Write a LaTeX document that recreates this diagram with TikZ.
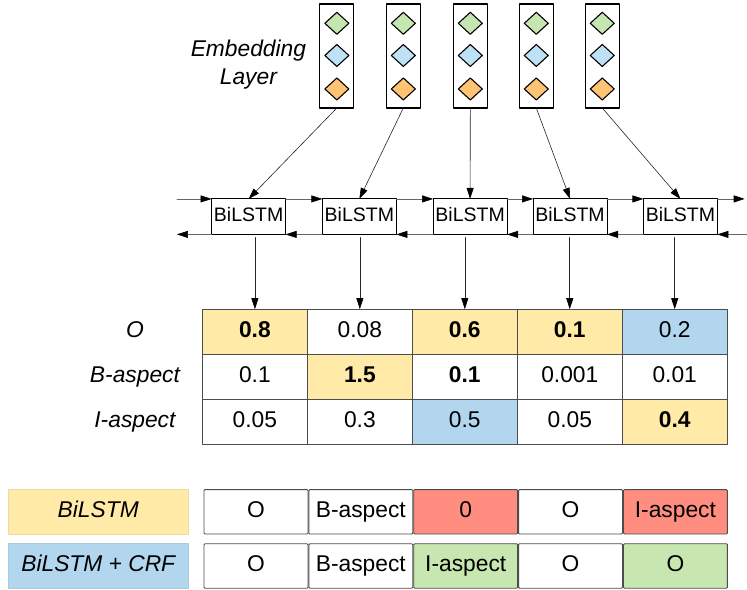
\documentclass[tikz,border=0pt]{standalone}
\usepackage{fontspec}
\setmainfont{Liberation Sans}
\usetikzlibrary{arrows.meta,shapes.geometric}

\definecolor{gemgreen}{HTML}{C5E6B1}
\definecolor{gemblue}{HTML}{BEE1F5}
\definecolor{gemorange}{HTML}{FFC473}
\definecolor{yel}{HTML}{FFEAA8}
\definecolor{blu}{HTML}{B3D6EF}
\definecolor{red}{HTML}{FF8D80}
\definecolor{grn}{HTML}{C8E6AF}

\begin{document}
\begin{tikzpicture}
  [
    x=1pt, y=-1pt,
    line cap=round, line join=round,
    every node/.style={inner sep=0pt, outer sep=0pt},
    big/.style={font=\fontsize{22.8}{26.6}\selectfont},
    emb/.style={draw, line width=1.2pt, minimum width=34pt, minimum height=104pt},
    gem/.style={diamond, draw, line width=1.1pt, minimum width=24pt, minimum height=22pt},
    lstm/.style={draw, line width=1.1pt, minimum width=74pt, minimum height=35.5pt,
      text height=14pt, text depth=4pt, font=\fontsize{19.5}{22}\selectfont},
    cell/.style={big, draw=black!70, line width=0.9pt, minimum width=105pt, minimum height=45pt,
      text height=16.3pt, text depth=5pt},
    tag/.style={cell, rounded corners=1pt, minimum width=104pt, minimum height=44.5pt},
    rowlab/.style={big, text height=16.3pt, text depth=5pt, font=\fontsize{22.8}{26.6}\selectfont\itshape},
    modelbox/.style={rowlab, draw=#1!85!gray, line width=0.4pt, fill=#1, minimum width=180pt, minimum height=45pt},
    numbold/.style={font=\fontsize{22.8}{26.6}\selectfont\bfseries},
    numplain/.style={},
    flow/.style={black!85, line width=0.6pt, -{Triangle[length=11pt,width=7pt,color=black]}},
    chain/.style={flow, black!60},
  ]

% embedding layer
\node[rowlab, anchor=base] (embA) at (248.5,56.7) {Embedding};
\node[rowlab, anchor=base] (embB) at (248.5,84.5) {Layer};

\foreach \i/\x in {1/337,2/403.5,3/470.5,4/536.5,5/602.5} {
  \node[emb] (e\i) at (\x,56) {};
  \node[gem, fill=gemgreen] (e\i g) at (\x,23.3) {};
  \node[gem, fill=gemblue] (e\i b) at (\x,55.5) {};
  \node[gem, fill=gemorange] (e\i o) at (\x,89) {};
}

% BiLSTM layer
\foreach \i/\x in {1/248.7,2/359.5,3/470.3,4/570.3,5/680.7}
  \node[lstm] (l\i) at (\x,216.75) {BiLSTM};

\foreach \i in {1,...,5}
  \draw[flow] (e\i.south) -- (l\i.north);

\coordinate (west in) at (177,199);
\coordinate (west out) at (177,234.5);
\coordinate (east out) at (745,199);
\coordinate (east in) at (747,234.5);

\draw[chain] (west in) -- (l1.north west);
\draw[chain] (l1.south west) -- (west out);
\foreach \i/\j in {1/2,2/3,3/4,4/5} {
  \draw[chain] (l\i.north east) -- (l\j.north west);
  \draw[chain] (l\j.south west) -- (l\i.south east);
}
\draw[chain] (l5.north east) -- (east out);
\draw[chain] (east in) -- (l5.south east);

% scores
\foreach \r/\y/\lab/\vals in {
  o/331.8/O/{0.8/yel/numbold, 0.08/white/numplain, 0.6/yel/numbold, 0.1/yel/numbold, 0.2/blu/numplain},
  b/376.8/B-aspect/{0.1/white/numplain, 1.5/yel/numbold, 0.1/white/numbold, 0.001/white/numplain, 0.01/white/numplain},
  i/421.8/I-aspect/{0.05/white/numplain, 0.3/white/numplain, 0.5/blu/numplain, 0.05/white/numplain, 0.4/yel/numbold}} {
  \node[rowlab] (lab-\r) at (135,\y) {\lab};
  \foreach \v/\f/\w [count=\c] in \vals
    \node[cell, fill=\f, \w] (c-\r-\c) at ({150+105*\c},\y) {\v};
}

\foreach \i in {1,...,5}
  \draw[flow, shorten <=3pt] (c-o-\i.north |- l\i.south) -- (c-o-\i.north);

% predictions
\foreach \r/\y/\lab/\lf/\vals in {
  bl/512/BiLSTM/yel/{O/white, B-aspect/white, 0/red, O/white, I-aspect/red},
  crf/566.2/BiLSTM + CRF/blu/{O/white, B-aspect/white, I-aspect/grn, O/white, O/grn}} {
  \node[modelbox=\lf] (m-\r) at (98.3,\y) {\lab};
  \foreach \v/\f [count=\c] in \vals
    \node[tag, fill=\f] (t-\r-\c) at ({151.2+104.9*\c},\y) {\v};
}

\useasboundingbox (0,0) rectangle (747,590);
\end{tikzpicture}
\end{document}
